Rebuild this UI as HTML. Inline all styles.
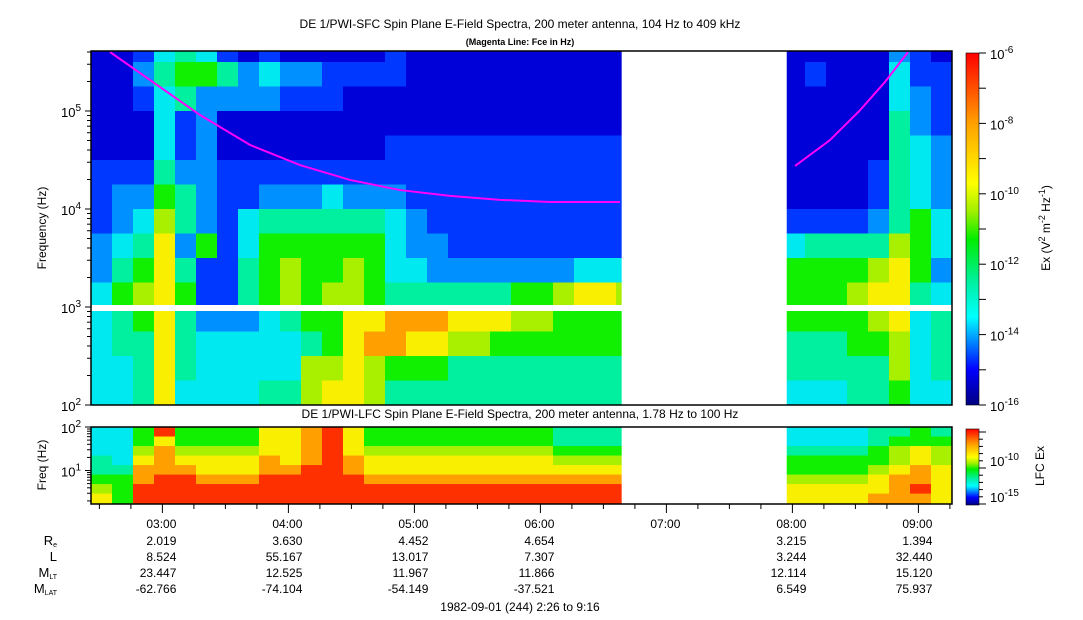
<!DOCTYPE html>
<html><head><meta charset="utf-8"><style>
html,body{margin:0;padding:0;background:#fff;}
svg{display:block;font-family:"Liberation Sans",sans-serif;}
</style></head><body>
<svg id="c" width="1083" height="620" xmlns="http://www.w3.org/2000/svg"></svg>
<script>
// ---- data ----
const startHour = 2 + 26/60, endHour = 9 + 16/60;
const gapStart = 6.645, gapEnd = 7.955;
const colMinutes = 10;
// SFC levels, rows from top (log f 5.5-5.75) down to bottom (2-2.25); '-' = no data
const sfcRows = [
"11245421211111"+"211111111111"+"-------"+"11111321",
"11356653433222"+"211111111111"+"-------"+"12111422",
"11245333322211"+"111111111111"+"-------"+"11111432",
"11142311111111"+"111111111111"+"-------"+"11111532",
"11142311111111"+"222222222222"+"-------"+"11111543",
"22253322222222"+"222222222222"+"-------"+"11112543",
"23365322333433"+"322222222222"+"-------"+"11112543",
"23475324555555"+"432222222222"+"-------"+"22223564",
"34583624666666"+"433222222222"+"-------"+"45555764",
"35685225676676"+"443333333444"+"-------"+"66667863",
"46786225676776"+"555555667887"+"-------"+"66678854",
"45685333456688"+"999888776666"+"-------"+"66667845",
"45585444445689"+"988776666666"+"-------"+"55566745",
"44585444447787"+"666555555555"+"-------"+"55555745",
"44584444557887"+"555555555555"+"-------"+"44455644"];
// LFC levels per column (top->bottom 8 bands)
const lfcCols = ["44455678","44445666","667899aa","a899 9aaa".replace(' ',''),"66789aaa","66788 9aa".replace(' ',''),"667889aa","667889aa","88899aaa","88889aaa","9999aaaa","aaaaaaaa","88899aaa",
"667889aa","667889aa","667889aa","667889aa","667889aa","667889aa","667889aa","667889aa","667889aa",
"556789aa","556789aa","556789aa","556789aa","--------","--------","--------","--------","--------","--------","--------",
"44566788","44566788","44566788","44566788","55667889","56778999","668899a9","56778888"];
const fceLeftHours = [2.584,2.902,3.299,3.696,4.092,4.489,4.886,5.283,5.679,6.076,6.632];
const fceLeftHz = [400000,207000,91000,45000,28100,19800,15600,13600,12400,11800,11800];
const fceRightHours = [8.021,8.299,8.537,8.735,8.918];
const fceRightHz = [27500,50600,102000,198000,400000];
const hourTicks = ["03:00","04:00","05:00","06:00","07:00","08:00","09:00"];
const reVals = ["2.019","3.630","4.452","4.654","","3.215","1.394"];
const lVals = ["8.524","55.167","13.017","7.307","","3.244","32.440"];
const mltVals = ["23.447","12.525","11.967","11.866","","12.114","15.120"];
const mlatVals = ["-62.766","-74.104","-54.149","-37.521","","6.549","75.937"];
const levelColors = {"0":"#000090","1":"#0000d8","2":"#0038ff","3":"#0090ff","4":"#00e8f0","5":"#00f0a0","6":"#10f000","7":"#a8f000","8":"#f8f000","9":"#ffa000","a":"#ff3000"};

// ---- axes ----
const X0=91, X1=952;
const xScale = h => X0 + (h-startHour)/(endHour-startHour)*(X1-X0);
const TY = f => 405 - (Math.log10(f)-2)*98;     // top panel
const LY = f => 427 + (2-Math.log10(f))*43.5;   // lfc panel
const NS="http://www.w3.org/2000/svg";
const svg=document.getElementById('c');
function mk(tag,attrs,parent){const e=document.createElementNS(NS,tag);for(const k in attrs)e.setAttribute(k,attrs[k]);(parent||svg).appendChild(e);return e;}
function txt(x,y,s,size,anchor,parent){const t=mk('text',{x:x,y:y,'font-size':size,'text-anchor':anchor||'middle',fill:'#000'},parent);t.textContent=s;return t;}

// titles
let t=txt(520,28,"DE 1/PWI-SFC  Spin Plane E-Field Spectra, 200 meter antenna, 104 Hz to 409 kHz",12);


t=txt(520,45,"(Magenta Line: Fce in Hz)",9);t.setAttribute('font-weight','bold');


t=txt(520,418,"DE 1/PWI-LFC  Spin Plane E-Field Spectra, 200 meter antenna, 1.78 Hz to 100 Hz",12);



// top spectrogram cells
const gTop=mk('g',{});


sfcRows.forEach((row,ri)=>{
  const lo=2+0.25*(sfcRows.length-1-ri), hi=lo+0.25;
  const y1=Math.max(51,TY(Math.pow(10,hi))), y2=TY(Math.pow(10,lo));
  for(let ci=0;ci<row.length;ci++){
    const ch=row[ci]; if(ch==='-') continue;
    const h0=startHour+ci*colMinutes/60, h1=Math.min(endHour,h0+colMinutes/60);
    const r=mk('rect',{x:xScale(h0),y:y1,width:xScale(h1)-xScale(h0)+0.5,height:y2-y1+0.5,fill:levelColors[ch]},gTop);
    
    
  }
});
// 1 kHz white band
mk('rect',{x:X0,y:TY(1000)-2,width:X1-X0,height:6,fill:'#fff'});
// lfc cells
const gL=mk('g',{});


const nb=8, lfTop=2, lfBot=Math.log10(1.78);
lfcCols.forEach((col,ci)=>{
  for(let b=0;b<nb;b++){
    const ch=col[b]; if(!ch||ch==='-') continue;
    const fh=lfTop-(lfTop-lfBot)*b/nb, fl=lfTop-(lfTop-lfBot)*(b+1)/nb;
    const y1=LY(Math.pow(10,fh)), y2=LY(Math.pow(10,fl));
    const h0=startHour+ci*colMinutes/60, h1=Math.min(endHour,h0+colMinutes/60);
    const r=mk('rect',{x:xScale(h0),y:y1,width:xScale(h1)-xScale(h0)+0.5,height:y2-y1+0.5,fill:levelColors[ch]},gL);
    
    
  }
});
// data gaps
mk('rect',{x:xScale(gapStart),y:51,width:xScale(gapEnd)-xScale(gapStart),height:354,fill:'#fff'});
mk('rect',{x:xScale(gapStart),y:427,width:xScale(gapEnd)-xScale(gapStart),height:77,fill:'#fff'});

// fce lines
function line(hs,fs,name){const p=hs.map((h,i)=>xScale(h)+','+TY(fs[i])).join(' ');
  const e=mk('polyline',{points:p,fill:'none',stroke:'#ff00ff','stroke-width':2});
  
  }
line(fceLeftHours,fceLeftHz,'fce-line-left');
line(fceRightHours,fceRightHz,'fce-line-right');

// frames
mk('rect',{x:X0,y:51,width:X1-X0,height:354,fill:'none',stroke:'#000','stroke-width':1.5});
mk('rect',{x:X0,y:427,width:X1-X0,height:77,fill:'none',stroke:'#000','stroke-width':1.5});

// top y axis
for(let d=2;d<=5;d++){
  for(let m=1;m<10;m++){const f=m*Math.pow(10,d); if(f>409000)break; const y=TY(f);
    mk('line',{x1:X0-(m===1?6:4),x2:X0,y1:y,y2:y,stroke:'#000'});}
  const y=TY(Math.pow(10,d));
  const tt=txt(X0-10,y+6,"10",13,'end');const s=mk('tspan',{dy:-6,'font-size':10},tt);s.textContent=d;
  
  
}
t=txt(0,0,"Frequency (Hz)",12);t.setAttribute('transform','translate(46,228) rotate(-90)');


// lfc y axis
for(let d=0;d<=2;d++){for(let m=1;m<10;m++){const f=m*Math.pow(10,d); if(f<1.78||f>100)continue;const y=LY(f);
  mk('line',{x1:X0-(m===1?6:4),x2:X0,y1:y,y2:y,stroke:'#000'});}}
[1,2].forEach(d=>{const tt=txt(X0-10,LY(Math.pow(10,d))+6,"10",13,'end');const s=mk('tspan',{dy:-6,'font-size':10},tt);s.textContent=d;
  
  });
t=txt(0,0,"Freq (Hz)",12);t.setAttribute('transform','translate(46,465) rotate(-90)');



// x ticks
for(let h=2.5;h<=endHour;h+=0.25){const x=xScale(h); const maj=Math.abs(h-Math.round(h))<0.01;
  mk('line',{x1:x,x2:x,y1:504,y2:504+(maj?9:5),stroke:'#000'});}
hourTicks.forEach((lab,i)=>{const x=xScale(3+i)+14;
  let e=txt(x,528,lab,12,'end');
  e=txt(x,545,reVals[i],12,'end');
  e=txt(x,561,lVals[i],12,'end');
  e=txt(x,577,mltVals[i],12,'end');
  e=txt(x,593,mlatVals[i],12,'end');
});
function rl(y,main,sub,name){const e=txt(57,y,main,13,'end');if(sub){const s=mk('tspan',{'font-size':7,dy:2},e);s.textContent=sub;}
  }
rl(545,"R","e","re-label");rl(561,"L","","l-label");rl(577,"M","LT","mlt-label");rl(593,"M","LAT","mlat-label");
t=txt(520,611,"1982-09-01 (244) 2:26 to 9:16",12);



// colorbars
const defs=mk('defs',{});
const gr=mk('linearGradient',{id:'cb',x1:0,y1:1,x2:0,y2:0},defs);
[[0,'#000080'],[0.1,'#0000ff'],[0.25,'#00ffff'],[0.35,'#00f0a0'],[0.47,'#00ee00'],[0.55,'#a0f000'],[0.63,'#ffff00'],[0.8,'#ffa000'],[1,'#ff0000']]
 .forEach(s=>mk('stop',{offset:s[0],'stop-color':s[1]},gr));
let cb=mk('rect',{x:966,y:53,width:13,height:352,fill:'url(#cb)',stroke:'#000','stroke-width':0.6});

for(let i=0;i<=10;i++){const y=53+i*35.2;mk('line',{x1:979,x2:986,y1:y,y2:y,stroke:'#000'});
  if(i%2===0){const tt=txt(990,y+6,"10",13,'start');const s=mk('tspan',{dy:-6,'font-size':10},tt);s.textContent=-6-i;
    }}
t=txt(0,0,"",12);t.setAttribute('transform','translate(1050,228) rotate(-90)');
t.innerHTML='Ex (V<tspan dy="-5" font-size="9">2</tspan><tspan dy="5"> m</tspan><tspan dy="-5" font-size="9">-2</tspan><tspan dy="5"> Hz</tspan><tspan dy="-5" font-size="9">-1</tspan><tspan dy="5">)</tspan>';

cb=mk('rect',{x:966,y:429,width:13,height:76,fill:'url(#cb)',stroke:'#000','stroke-width':0.6});

for(let i=0;i<=10;i++){const y=432+i*7.2;mk('line',{x1:979,x2:i%5===0?986:983,y1:y,y2:y,stroke:'#000'});}
[[-10,461],[-15,497]].forEach(v=>{const tt=txt(990,v[1]+5,"10",13,'start');const s=mk('tspan',{dy:-6,'font-size':10},tt);s.textContent=v[0];
  });
t=txt(0,0,"LFC Ex",12);t.setAttribute('transform','translate(1044,466) rotate(-90)');

</script>
</body></html>
